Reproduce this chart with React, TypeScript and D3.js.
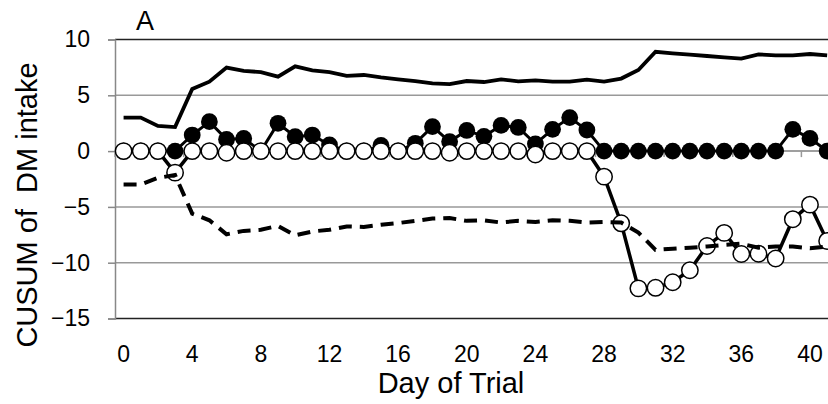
import { useEffect, useRef } from "react";
import * as d3 from "d3";

const days = [
  0, 1, 2, 3, 4, 5, 6, 7, 8, 9, 10, 11, 12, 13, 14, 15, 16, 17, 18, 19, 20,
  21, 22, 23, 24, 25, 26, 27, 28, 29, 30, 31, 32, 33, 34, 35, 36, 37, 38, 39,
  40, 41,
];

// upper control limit (solid) and lower control limit (dashed)
const upperLimit = [
  3.0, 3.0, 2.25, 2.15, 5.56, 6.22, 7.48, 7.18, 7.08, 6.67, 7.6, 7.24, 7.08,
  6.74, 6.82, 6.6, 6.43, 6.28, 6.07, 6.01, 6.28, 6.19, 6.43, 6.25, 6.34, 6.22,
  6.22, 6.4, 6.22, 6.5, 7.27, 8.9, 8.76, 8.64, 8.52, 8.4, 8.28, 8.67, 8.58,
  8.58, 8.7, 8.58,
];
const lowerLimit = [
  -3.0, -3.0, -2.4, -2.15, -5.6, -6.2, -7.45, -7.15, -7.05, -6.7, -7.55, -7.2,
  -7.05, -6.75, -6.8, -6.6, -6.45, -6.25, -6.05, -6.0, -6.25, -6.2, -6.4,
  -6.25, -6.35, -6.2, -6.25, -6.4, -6.35, -6.4, -7.3, -8.85, -8.75, -8.65,
  -8.55, -8.4, -8.3, -8.65, -8.55, -8.55, -8.7, -8.55,
];
// CUSUM series: filled markers and open markers
const filledCusum = [
  0, 0, 0, 0, 1.44, 2.64, 1.05, 1.14, 0, 2.49, 1.29, 1.44, 0.55, 0, 0, 0.5, 0,
  0.7, 2.19, 0.85, 1.85, 1.32, 2.3, 2.12, 0.65, 1.95, 3.0, 1.89, 0, 0, 0, 0, 0,
  0, 0, 0, 0, 0, 0, 1.95, 1.14, 0,
];
const openCusum = [
  0, 0, 0, -1.93, 0, 0, -0.15, 0, 0, 0, 0, 0, 0, 0, 0, 0, 0, 0, 0, -0.15, 0, 0,
  0, 0, -0.3, 0, 0, 0, -2.29, -6.47, -12.3, -12.25, -11.75, -10.68, -8.5,
  -7.33, -9.22, -9.2, -9.62, -6.1, -4.8, -8.05,
];

const yTicks = [10, 5, 0, -5, -10, -15];
const xTickLabels = [0, 4, 8, 12, 16, 20, 24, 28, 32, 36, 40];

const FONT = "'Liberation Sans', Arial, sans-serif";

const App = () => {
  const ref = useRef<SVGSVGElement | null>(null);

  useEffect(() => {
    const width = 828;
    const height = 404;
    const left = 115;
    const step = 17.16;
    const top = 39.5;
    const bottom = 318.5;

    const svg = d3.select(ref.current);
    svg.selectAll("*").remove();

    const x = d3
      .scaleBand<number>()
      .domain(days)
      .range([left, left + days.length * step]);
    const cx = (d: number) => (x(d) as number) + x.bandwidth() / 2;
    const y = d3.scaleLinear().domain([-15, 10]).range([bottom, top]);

    // gridlines
    svg
      .append("g")
      .selectAll("line")
      .data([5, 0, -5, -10])
      .join("line")
      .attr("x1", left)
      .attr("x2", width)
      .attr("y1", (d) => y(d))
      .attr("y2", (d) => y(d))
      .attr("stroke", "#999")
      .attr("stroke-width", 1.5);

    // plot border top & bottom
    svg
      .append("g")
      .selectAll("line")
      .data([10, -15])
      .join("line")
      .attr("x1", left)
      .attr("x2", width)
      .attr("y1", (d) => y(d))
      .attr("y2", (d) => y(d))
      .attr("stroke", "#222")
      .attr("stroke-width", 1.6);

    // y axis
    const yAxis = svg
      .append("g")
      .attr("transform", `translate(${left},0)`)
      .call(d3.axisLeft(y).tickValues(yTicks).tickSize(7).tickPadding(18));
    yAxis.select(".domain").attr("stroke", "#888").attr("stroke-width", 1.5);
    yAxis.selectAll(".tick line").attr("stroke", "#888").attr("stroke-width", 1.5);
    yAxis
      .selectAll(".tick text")
      .attr("font-family", FONT)
      .attr("font-size", 23)
      .attr("fill", "#000");

    // x axis line at zero with ticks on category boundaries
    svg
      .append("line")
      .attr("x1", left)
      .attr("x2", width)
      .attr("y1", y(0))
      .attr("y2", y(0))
      .attr("stroke", "#999")
      .attr("stroke-width", 1.5);
    svg
      .append("g")
      .selectAll("line")
      .data(xTickLabels)
      .join("line")
      .attr("x1", (d) => x(d) as number)
      .attr("x2", (d) => x(d) as number)
      .attr("y1", y(0))
      .attr("y2", y(0) + 6)
      .attr("stroke", "#999")
      .attr("stroke-width", 1.5);

    svg
      .append("g")
      .selectAll("text")
      .data(xTickLabels)
      .join("text")
      .attr("x", (d) => cx(d))
      .attr("y", 362)
      .attr("text-anchor", "middle")
      .attr("font-family", FONT)
      .attr("font-size", 23)
      .text((d) => d);

    const line = (vals: number[]) =>
      d3
        .line<number>()
        .x((_, i) => cx(days[i]))
        .y((d) => y(d))(vals);

    // filled series
    svg
      .append("path")
      .attr("d", line(filledCusum))
      .attr("fill", "none")
      .attr("stroke", "#000")
      .attr("stroke-width", 3);
    svg
      .append("g")
      .selectAll("circle")
      .data(filledCusum)
      .join("circle")
      .attr("cx", (_, i) => cx(days[i]))
      .attr("cy", (d) => y(d))
      .attr("r", 8.4)
      .attr("fill", "#000");

    // open series
    svg
      .append("path")
      .attr("d", line(openCusum))
      .attr("fill", "none")
      .attr("stroke", "#000")
      .attr("stroke-width", 3.5);
    svg
      .append("g")
      .selectAll("circle")
      .data(openCusum)
      .join("circle")
      .attr("cx", (_, i) => cx(days[i]))
      .attr("cy", (d) => y(d))
      .attr("r", 8.2)
      .attr("fill", "#fff")
      .attr("stroke", "#000")
      .attr("stroke-width", 1.5);

    // control limits
    svg
      .append("path")
      .attr("d", line(upperLimit))
      .attr("fill", "none")
      .attr("stroke", "#000")
      .attr("stroke-width", 3.8);
    svg
      .append("path")
      .attr("d", line(lowerLimit))
      .attr("fill", "none")
      .attr("stroke", "#000")
      .attr("stroke-width", 4)
      .attr("stroke-dasharray", "13 8");

    // titles
    svg
      .append("text")
      .attr("x", 451)
      .attr("y", 393)
      .attr("text-anchor", "middle")
      .attr("font-family", FONT)
      .attr("font-size", 29)
      .text("Day of Trial");
    svg
      .append("text")
      .attr("transform", `translate(37,205) rotate(-90)`)
      .attr("text-anchor", "middle")
      .attr("font-family", FONT)
      .attr("font-size", 29)
      .style("white-space", "pre")
      .text("CUSUM of  DM intake");
    svg
      .append("text")
      .attr("x", 136)
      .attr("y", 30)
      .attr("font-family", FONT)
      .attr("font-size", 27)
      .text("A");

    svg.attr("width", width).attr("height", height);
  }, []);

  return (
    <svg
      ref={ref}
      width={828}
      height={404}
      style={{ position: "absolute", left: 0, top: 0, background: "#fff" }}
    />
  );
};

export default App;
